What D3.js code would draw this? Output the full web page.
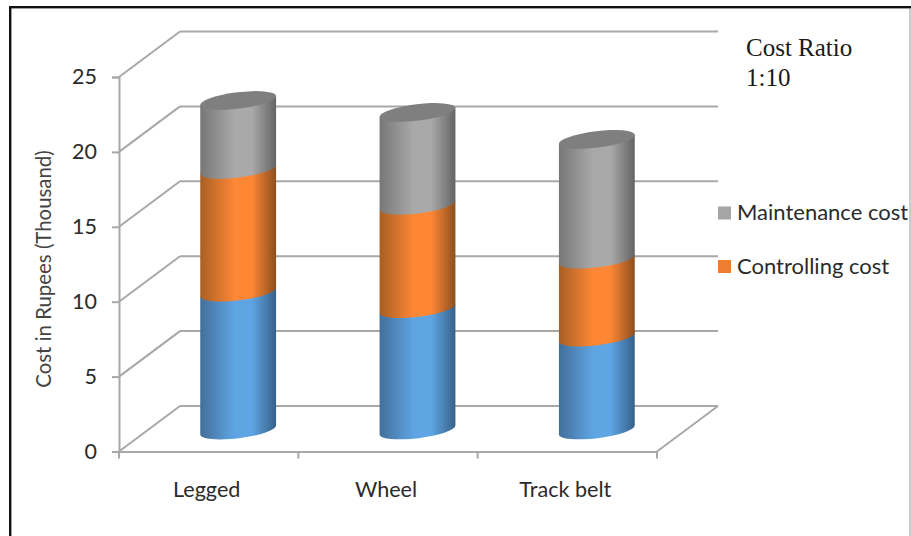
<!DOCTYPE html>
<html>
<head>
<meta charset="utf-8">
<script src="https://cdnjs.cloudflare.com/ajax/libs/d3/7.8.5/d3.min.js"></script>
<style>
html,body{margin:0;padding:0;background:#fff;overflow:hidden}
svg{display:block}
text{font-family:Lato,"Open Sans",sans-serif;fill:#2b2b2b}
</style>
</head>
<body>
<svg id="chart" width="911" height="536"></svg>
<script>
// Chart values, in thousands of rupees
const categories = ["Legged", "Wheel", "Track belt"];
const seriesNames = ["Base cost", "Controlling cost", "Maintenance cost"];
const baseCost = [9.2, 8.1, 6.2];
const controllingCost = [8.2, 6.9, 5.2];
const maintenanceCost = [4.6, 6.2, 8.0];
const yTicks = [0, 5, 10, 15, 20, 25];
const legendEntries = ["Maintenance cost", "Controlling cost"];
const noteLines = ["Cost Ratio", "1:10"];
const yTitle = "Cost in Rupees (Thousand)";

const svg = d3.select("#chart");

// Picture frame: heavy on the top and left, hairline on the right
svg.append("rect").attr("x", 9).attr("y", 6).attr("width", 902).attr("height", 2.4).attr("fill", "#111");
svg.append("rect").attr("x", 9).attr("y", 6).attr("width", 2.4).attr("height", 530).attr("fill", "#111");
svg.append("rect").attr("x", 909.5).attr("y", 8).attr("width", 1).attr("height", 528).attr("fill", "#9a9a9a");

// Scales for the front plane of the 3-D box
const y = d3.scaleLinear().domain([0, 25]).range([451.5, 77]);
const x = d3.scaleBand().domain(categories).range([119, 657]);

// Depth of the box and of the plane the columns stand on
const depth = {dx: 61, dy: -45.5};
const mid = {dx: 29.5, dy: -21.5};
const gridColor = "#a8a8a8";
const gridWidth = 2;

const grid = svg.append("g").attr("fill", "none").attr("stroke", gridColor).attr("stroke-width", gridWidth);
yTicks.forEach(t => {
  const py = y(t);
  // back wall line
  grid.append("line")
    .attr("x1", x.range()[0] + depth.dx).attr("x2", x.range()[1] + depth.dx)
    .attr("y1", py + depth.dy).attr("y2", py + depth.dy);
  // side wall line
  grid.append("line")
    .attr("x1", x.range()[0]).attr("x2", x.range()[0] + depth.dx)
    .attr("y1", py).attr("y2", py + depth.dy);
});
// right edge of the floor
grid.append("line")
  .attr("x1", x.range()[1]).attr("x2", x.range()[1] + depth.dx)
  .attr("y1", y(0)).attr("y2", y(0) + depth.dy);

// Axes
const yAxis = d3.axisLeft(y).tickValues(yTicks).tickSize(7).tickPadding(15);
const xAxis = d3.axisBottom(x).tickSize(0).tickPadding(30);

const gy = svg.append("g").attr("transform", `translate(${x.range()[0]},0)`).call(yAxis);
const gx = svg.append("g").attr("transform", `translate(-2,${y(0)})`).call(xAxis);
[gy, gx].forEach(g => {
  g.selectAll(".domain,.tick line").attr("stroke", gridColor).attr("stroke-width", gridWidth);
  g.selectAll("text").style("font-family", "Lato,sans-serif").attr("fill", "#2b2b2b");
});
gx.select(".domain").attr("transform", "translate(2,0)");
gy.selectAll("text").style("font-size", "21.5px");
gx.selectAll("text").style("font-size", "21.6px");

// Category boundary ticks along the bottom edge
const boundaries = categories.map(c => x(c)).concat(x.range()[1]);
svg.append("g").selectAll("line").data(boundaries).join("line")
  .attr("x1", d => d).attr("x2", d => d)
  .attr("y1", y(0)).attr("y2", y(0) + 7)
  .attr("stroke", gridColor).attr("stroke-width", gridWidth);

// Horizontal shading for each column colour
const defs = svg.append("defs");
const palette = [
  {id: "shadeBase", edgeL: "#426f9a", mid: "#5fa5e3", edgeR: "#37618a"},
  {id: "shadeControl", edgeL: "#a85f24", mid: "#fd8735", edgeR: "#8c4f1e"},
  {id: "shadeMaint", edgeL: "#777777", mid: "#a9a9a9", edgeR: "#646464"}
];
palette.forEach(p => {
  const g = defs.append("linearGradient").attr("id", p.id)
    .attr("x1", 0).attr("x2", 1).attr("y1", 0).attr("y2", 0);
  [[0, p.edgeL], [0.45, p.mid], [0.68, p.mid], [1, p.edgeR]].forEach(([o, c]) =>
    g.append("stop").attr("offset", o).attr("stop-color", c));
});

// Column cross-section: a tilted ellipse
const rx = 38.2, ry = 8.2, tilt = -7;
const halfRise = rx * Math.sin(-tilt * Math.PI / 180);
const halfRun = rx * Math.cos(tilt * Math.PI / 180);

function segmentPath(cx, top, bottom) {
  const l = cx - halfRun, r = cx + halfRun;
  return `M${l},${top + halfRise}L${l},${bottom + halfRise}` +
    `A${rx},${ry} ${tilt} 0 0 ${r},${bottom - halfRise}` +
    `L${r},${top - halfRise}Z`;
}

const seriesValues = [baseCost, controllingCost, maintenanceCost];
const columns = svg.append("g");
categories.forEach((c, i) => {
  const cx = x(c) + x.bandwidth() / 2 + mid.dx;
  let running = 0;
  seriesValues.forEach((vals, s) => {
    const from = running, to = running + vals[i];
    running = to;
    columns.append("path")
      .attr("d", segmentPath(cx, y(to) + mid.dy, y(from) + mid.dy))
      .attr("fill", `url(#${palette[s].id})`);
  });
  columns.append("ellipse")
    .attr("cx", 0).attr("cy", 0).attr("rx", rx).attr("ry", ry)
    .attr("transform", `translate(${cx},${y(running) + mid.dy}) rotate(${tilt})`)
    .attr("fill", "#7f7f7f");
});

// Legend (upper entry first)
const legendColors = ["#a5a5a5", "#ed7d31"];
const legendY = d3.scalePoint().domain(legendEntries).range([213, 266.5]);
const legend = svg.append("g");
legendEntries.forEach((name, i) => {
  legend.append("rect")
    .attr("x", 718).attr("y", legendY(name) - 6.5)
    .attr("width", 13).attr("height", 13).attr("fill", legendColors[i]);
  legend.append("text")
    .attr("x", 737).attr("y", legendY(name) + 7)
    .style("font-size", "22px").text(name);
});

// Axis title
svg.append("text")
  .attr("transform", "translate(51,269) rotate(-90)")
  .attr("text-anchor", "middle")
  .style("font-size", "20.4px").style("fill", "#444")
  .text(yTitle);

// Side note
noteLines.forEach((line, i) => {
  svg.append("text")
    .attr("x", 746).attr("y", 56 + i * 30)
    .style("font-family", "'Liberation Serif',serif")
    .style("font-size", "25px").style("fill", "#1a1a1a")
    .text(line);
});
</script>
</body>
</html>
